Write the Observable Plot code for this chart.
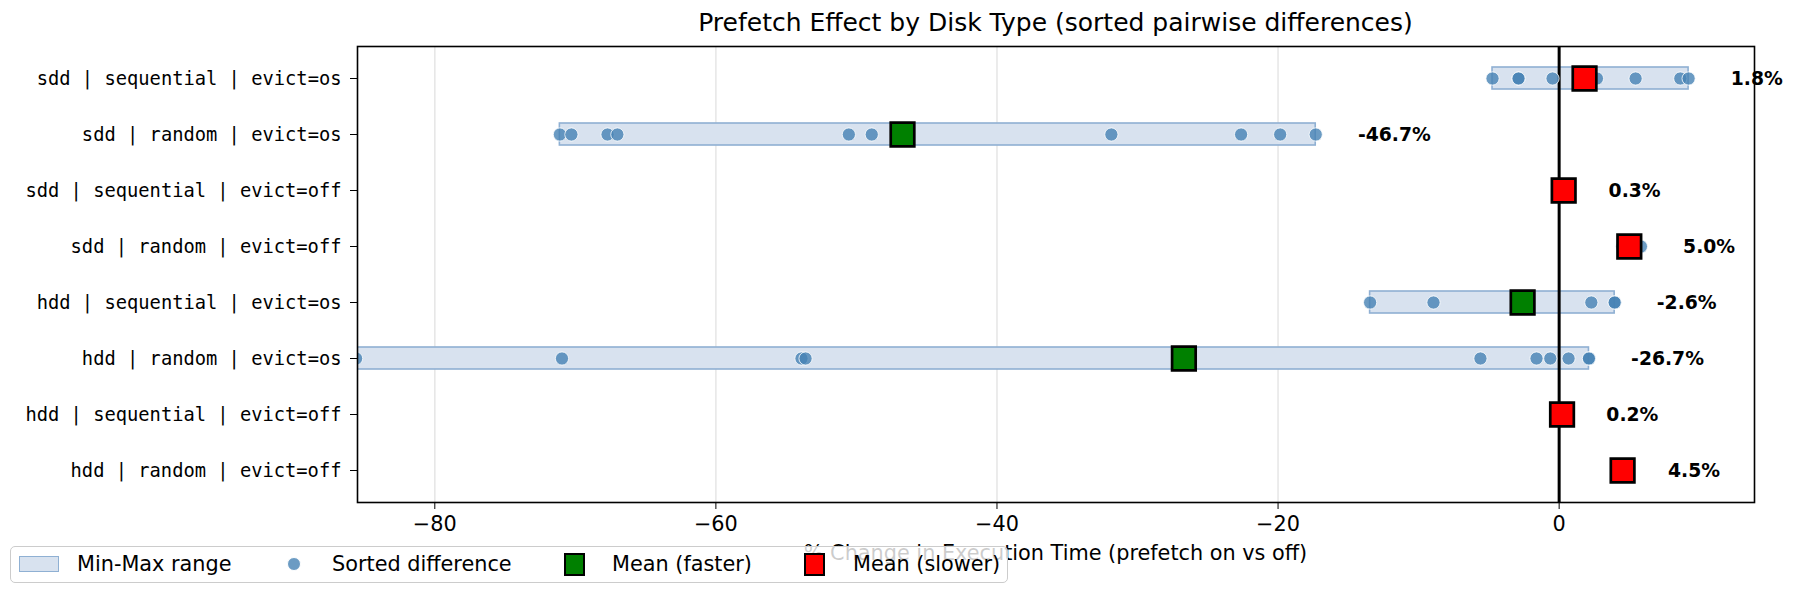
<!DOCTYPE html>
<html>
<head>
<meta charset="utf-8">
<script src="https://cdn.jsdelivr.net/npm/d3@7"></script>
<script src="https://cdn.jsdelivr.net/npm/@observablehq/plot@0.6"></script>
<style>
  html, body { margin: 0; padding: 0; background: white; }
  #wrap { position: relative; width: 1796px; height: 595px; overflow: hidden; font-family: "DejaVu Sans", sans-serif; }
  #chart { position: absolute; left: 0; top: 0; }
  .title { position: absolute; left: 0; width: 2111px; text-align: center; top: 8px; font-size: 25px; color: #000; white-space: nowrap; }
  .xlabel { position: absolute; left: 0; width: 2111px; text-align: center; top: 541px; font-size: 20.8px; color: #000; white-space: nowrap; }
  .legend { position: absolute; left: 10px; top: 546px; width: 996px; height: 35px; border: 1.5px solid #cccccc; border-radius: 5px; background: rgba(255,255,255,0.8); }
  .legend .lab { position: absolute; top: 5px; font-size: 20.8px; color: #000; white-space: nowrap; line-height: 24px; }
  .legend .sw { position: absolute; box-sizing: border-box; }
</style>
</head>
<body>
<div id="wrap">
  <div id="chart"></div>
  <div class="title">Prefetch Effect by Disk Type (sorted pairwise differences)</div>
  <div class="xlabel">% Change in Execution Time (prefetch on vs off)</div>
  <div class="legend" id="legend"></div>
</div>
<script>
// ---- data ----
const categories = [
  "sdd | sequential | evict=os",
  "sdd | random | evict=os",
  "sdd | sequential | evict=off",
  "sdd | random | evict=off",
  "hdd | sequential | evict=os",
  "hdd | random | evict=os",
  "hdd | sequential | evict=off",
  "hdd | random | evict=off"
];
const sddSeqOs   = [-4.74, -2.89, -2.89, -0.47, 1.5, 1.6, 2.69, 5.44, 8.62, 9.21];
const sddRandOs  = [-71.10, -70.28, -67.71, -67.01, -50.54, -48.91, -31.86, -22.63, -19.85, -17.32];
const sddSeqOff  = [0.1, 0.2, 0.2, 0.3, 0.3, 0.3, 0.4, 0.4, 0.5, 0.52];
const sddRandOff = [4.5, 4.6, 4.7, 4.8, 4.9, 5.0, 5.1, 5.2, 5.3, 5.82];
const hddSeqOs   = [-13.45, -8.94, -3.0, -2.9, -2.8, -2.7, -2.4, 2.29, 3.95, 3.95];
const hddRandOs  = [-85.6, -70.95, -53.91, -53.62, -5.60, -1.61, -0.63, 0.67, 2.12, 2.12];
const hddSeqOff  = [0.0, 0.1, 0.1, 0.2, 0.2, 0.2, 0.3, 0.3, 0.3, 0.36];
const hddRandOff = [4.2, 4.4, 4.4, 4.5, 4.5, 4.5, 4.6, 4.6, 4.7, 4.75];
const seriesValues = [sddSeqOs, sddRandOs, sddSeqOff, sddRandOff, hddSeqOs, hddRandOs, hddSeqOff, hddRandOff];
const xTicks = [-80, -60, -40, -20, 0];
const xDomain = [-85.5, 13.9];

// ---- derived tables ----
const points = [];
const summary = [];
categories.forEach((cat, i) => {
  const vals = seriesValues[i];
  vals.forEach(v => points.push({cat, v}));
  const mean = d3.mean(vals);
  summary.push({cat, min: d3.min(vals), max: d3.max(vals), mean,
    color: mean < 0 ? "green" : "red", label: mean.toFixed(1) + "%"});
});

const chart = Plot.plot({
  width: 1796,
  height: 595,
  marginLeft: 357,
  marginRight: 42,
  marginTop: 46,
  marginBottom: 93,
  style: {fontFamily: "DejaVu Sans", fontSize: "20.8px", background: "white", color: "black"},
  x: {domain: xDomain},
  y: {type: "band", domain: categories, paddingInner: 0.6, paddingOuter: 0.37},
  color: {type: "identity"},
  marks: [
    Plot.gridX(xTicks, {stroke: "#b0b0b0", strokeOpacity: 0.3, strokeWidth: 1.6}),
    Plot.barX(summary, {x1: "min", x2: "max", y: "cat", fill: "#d8e2ef", stroke: "#8fb0d3", strokeWidth: 1.6, clip: true}),
    Plot.ruleX([0], {stroke: "black", strokeWidth: 3}),
    Plot.dot(points, {x: "v", y: "cat", r: 6.6, fill: "#4682b4", fillOpacity: 0.8, stroke: "white", strokeWidth: 0.8, clip: true}),
    Plot.dot(summary, {x: "mean", y: "cat", symbol: "square", r: 13.3, fill: "color", stroke: "black", strokeWidth: 2.7}),
    Plot.text(summary, {x: d => d.max + 3, y: "cat", text: "label", textAnchor: "start", fontWeight: "bold", fontSize: 18.75, fill: "black"}),
    Plot.frame({stroke: "black", strokeWidth: 1.6}),
    Plot.axisX({ticks: xTicks, tickSize: 7, tickPadding: 7, fontSize: 20.8, label: null}),
    Plot.axisY({tickSize: 7, tickPadding: 9, fontFamily: "DejaVu Sans Mono", fontSize: 18.75, label: null})
  ]
});
document.getElementById("chart").appendChild(chart);

// ---- legend ----
const legend = document.getElementById("legend");
const items = [
  {sw: `<div class="sw" style="left:8px;top:9px;width:40px;height:16px;background:#d8e2ef;border:1.5px solid #8fb0d3"></div>`, text: "Min-Max range", tx: 66},
  {sw: `<div class="sw" style="left:276px;top:10px;width:14px;height:14px;border-radius:50%;background:rgba(70,130,180,0.8);border:0.8px solid white"></div>`, text: "Sorted difference", tx: 321},
  {sw: `<div class="sw" style="left:553px;top:6px;width:21px;height:23px;background:green;border:2.5px solid black"></div>`, text: "Mean (faster)", tx: 601},
  {sw: `<div class="sw" style="left:793px;top:6px;width:21px;height:23px;background:red;border:2.5px solid black"></div>`, text: "Mean (slower)", tx: 842}
];
legend.innerHTML = items.map(it => it.sw + `<div class="lab" style="left:${it.tx}px">${it.text}</div>`).join("");
</script>
</body>
</html>
